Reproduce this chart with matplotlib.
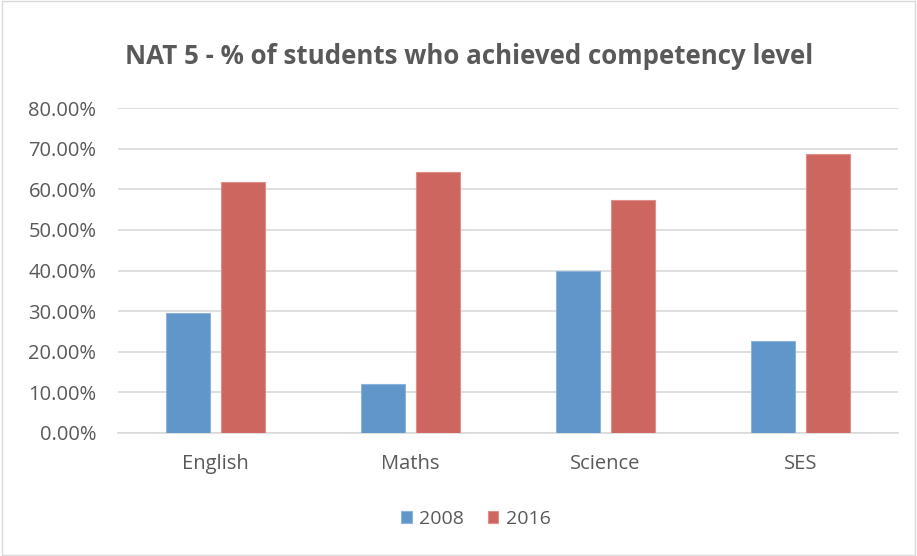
import numpy as np
import matplotlib.pyplot as plt
from matplotlib.ticker import FuncFormatter

# Data
categories = ["English", "Maths", "Science", "SES"]
values_2008 = [0.296, 0.120, 0.398, 0.227]
values_2016 = [0.619, 0.643, 0.573, 0.688]
series_labels = ["2008", "2016"]

plt.rcParams['font.family'] = ['Open Sans', 'DejaVu Sans']

fig = plt.figure(figsize=(9.17, 5.56), dpi=100)
ax = fig.add_axes([118 / 917, 1 - 433 / 556, 780 / 917, 325 / 556])

x = np.arange(len(categories))
width = 0.226
offset = 0.142
ax.bar(x - offset, values_2008, width, color='#6096C9', edgecolor='#8DB3DD', linewidth=0.8, label=series_labels[0], zorder=3)
ax.bar(x + offset, values_2016, width, color='#CD665F', edgecolor='#E08E89', linewidth=0.8, label=series_labels[1], zorder=3)

ax.set_xlim(-0.5, len(categories) - 0.5)
ax.set_ylim(0, 0.8)
ax.set_yticks(np.arange(0, 0.81, 0.1))
ax.yaxis.set_major_formatter(FuncFormatter(lambda v, p: f"{v * 100:.2f}%"))
ax.set_xticks(x)
ax.set_xticklabels(categories)
ax.grid(axis='y', color='#D9D9D9', linewidth=1.2, zorder=0)
ax.tick_params(axis='both', length=0, labelsize=14.5, colors='#595959')
ax.tick_params(axis='y', pad=15.5)
ax.tick_params(axis='x', pad=15)
for s in ['top', 'right', 'left']:
    ax.spines[s].set_visible(False)
ax.spines['bottom'].set_color('#D9D9D9')
ax.spines['bottom'].set_linewidth(1.2)

fig.text(469 / 917, 1 - 57 / 556, "NAT 5 - % of students who achieved competency level",
         ha='center', va='center', fontsize=18.6, fontweight='bold', color='#595959')

leg = fig.legend(loc='center', bbox_to_anchor=(476 / 917, 1 - 519 / 556), ncol=2, frameon=False,
                 fontsize=14, handlelength=0.55, handleheight=0.55, columnspacing=1.2, handletextpad=0.4)
for t in leg.get_texts():
    t.set_color('#595959')

# thin chart border
fig.patches.append(plt.Rectangle((0.002, 0.002), 0.996, 0.996, transform=fig.transFigure,
                                 fill=False, edgecolor='#D9D9D9', linewidth=1))

fig.savefig("out.png", dpi=100)
